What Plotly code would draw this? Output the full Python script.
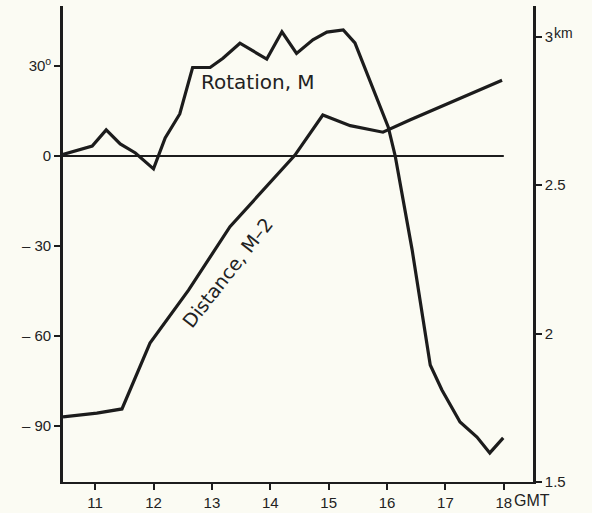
import plotly.graph_objects as go

# Rotation, M (degrees, left axis)
rot_hours = [10.45, 10.95, 11.19, 11.43, 11.69, 12.0, 12.2, 12.45, 12.67, 12.97, 13.19,
             13.48, 13.94, 14.2, 14.45, 14.73, 14.97, 15.25, 15.45, 16.02, 16.14, 16.43,
             16.74, 16.94, 17.25, 17.54, 17.76, 17.99]
rot_deg = [0.5, 3.3, 8.7, 4.0, 1.0, -4.3, 6.0, 14.0, 29.5, 29.5, 32.6,
           37.6, 32.3, 41.4, 34.2, 38.7, 41.3, 42.0, 37.7, 9.7, 0.0, -31.3,
           -69.7, -78.0, -88.7, -93.7, -99.0, -94.0]

# Distance, M-2 (km, right axis)
dist_hours = [10.45, 11.03, 11.46, 11.94, 12.6, 13.31, 14.42, 14.9, 15.37, 15.93, 16.39, 17.97]
dist_km = [1.719, 1.732, 1.746, 1.968, 2.146, 2.36, 2.60, 2.736, 2.70, 2.678, 2.719, 2.853]

# axes
x_ticks = [11, 12, 13, 14, 15, 16, 17, 18]
x_ticktext = ["11", "12", "13", "14", "15", "16", "17", "18"]
left_ticks = [-90, -60, -30, 0, 30]
left_ticktext = ["– 90", "– 60", "– 30", "0", "30<sup>o</sup>"]
right_ticks = [1.5, 2, 2.5, 3]
right_ticktext = ["1.5", "2", "2.5", "3"]
x_range = [10.45, 18.5]
zero_line_end = 18.0

INK = "#1c1c1c"
BG = "#fbfbf3"
FONT = "Liberation Sans"

fig = go.Figure()
fig.add_trace(go.Scatter(x=rot_hours, y=rot_deg, mode="lines",
                         line=dict(color=INK, width=3.2), yaxis="y", showlegend=False))
fig.add_trace(go.Scatter(x=dist_hours, y=dist_km, mode="lines",
                         line=dict(color=INK, width=3.2), yaxis="y2", showlegend=False))

fig.add_shape(type="line", xref="x", yref="y", x0=x_range[0], x1=zero_line_end, y0=0, y1=0,
              line=dict(color=INK, width=2))

axis_common = dict(showgrid=False, zeroline=False, showline=True, linecolor=INK,
                   ticks="outside", ticklen=6, tickwidth=2, tickcolor=INK, automargin=False,
                   tickfont=dict(family=FONT, size=15, color="#222"))

fig.update_layout(
    template="none",
    width=592, height=513,
    margin=dict(l=63, r=59, t=6, b=31, pad=0),
    paper_bgcolor=BG, plot_bgcolor=BG,
    xaxis=dict(range=x_range, tickvals=x_ticks, ticktext=x_ticktext, linewidth=2.2,
               **axis_common),
    yaxis=dict(range=[-108.7, 50], tickvals=left_ticks, ticktext=left_ticktext,
               linewidth=2.6, **axis_common),
    yaxis2=dict(range=[1.5, 3.103], tickvals=right_ticks, ticktext=right_ticktext,
                overlaying="y", side="right", anchor="x", linewidth=2.6, **axis_common),
    annotations=[
        dict(text="Rotation, M", x=13.79, y=24.7, xref="x", yref="y", showarrow=False,
             xanchor="center", yanchor="middle",
             font=dict(family="DejaVu Sans", size=20, color="#222")),
        dict(text="Distance, M–2", x=13.26, y=2.204, xref="x", yref="y2", showarrow=False,
             textangle=-52, xanchor="center", yanchor="middle",
             font=dict(family="DejaVu Sans", size=19, color="#222")),
        dict(text="GMT", x=18, xref="x", y=0, yref="paper", xshift=8, yshift=-8,
             xanchor="left", yanchor="top", showarrow=False,
             font=dict(family=FONT, size=16, color="#222")),
        dict(text="km", x=1, xref="paper", y=3, yref="y2", xshift=19, yshift=4,
             xanchor="left", yanchor="middle", showarrow=False,
             font=dict(family=FONT, size=14, color="#222")),
    ],
)

fig.write_html("out.html", config={"displayModeBar": False},
               post_script="document.body.style.margin='0';document.body.style.overflow='hidden';")
